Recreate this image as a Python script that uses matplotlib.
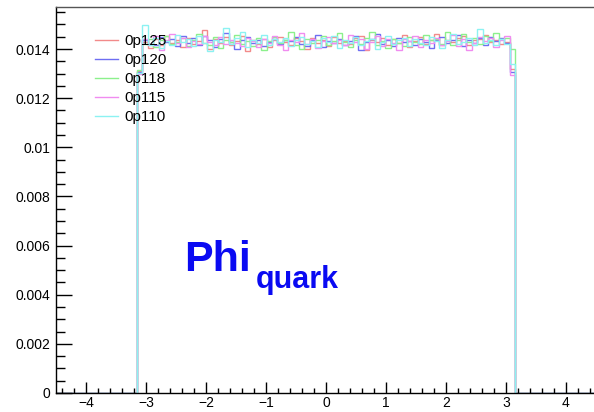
import numpy as np
import matplotlib.pyplot as plt
from matplotlib.ticker import MultipleLocator, FuncFormatter

plt.rcParams['font.family'] = ['Liberation Sans', 'DejaVu Sans']

# 100 bins over [-4.5, 4.5]; only the 70 bins covering [-pi, pi] are filled
edges = np.linspace(-4.5, 4.5, 101)
first_bin = 15

labels = ["0p125", "0p120", "0p118", "0p115", "0p110"]
colors = ["#f28a8a", "#6e6ef2", "#8cf08c", "#f08cf0", "#8cf2f2"]

phi_0p125 = [
    0.01312, 0.01428, 0.01405, 0.01440, 0.01418, 0.01452, 0.01425, 0.01436, 0.01410, 0.01445,
    0.01421, 0.01433, 0.01478, 0.01402, 0.01439, 0.01426, 0.01447, 0.01415, 0.01431, 0.01455,
    0.01392, 0.01438, 0.01422, 0.01441, 0.01409, 0.01436, 0.01450, 0.01428, 0.01417, 0.01443,
    0.01431, 0.01402, 0.01446, 0.01424, 0.01437, 0.01411, 0.01449, 0.01426, 0.01433, 0.01419,
    0.01444, 0.01452, 0.01398, 0.01435, 0.01428, 0.01446, 0.01415, 0.01440, 0.01423, 0.01457,
    0.01409, 0.01432, 0.01448, 0.01420, 0.01437, 0.01461, 0.01416, 0.01438, 0.01427, 0.01443,
    0.01452, 0.01418, 0.01435, 0.01440, 0.01459, 0.01429, 0.01437, 0.01422, 0.01428, 0.01318,
]
phi_0p120 = [
    0.01308, 0.01436, 0.01420, 0.01415, 0.01447, 0.01428, 0.01439, 0.01411, 0.01452, 0.01426,
    0.01443, 0.01418, 0.01452, 0.01437, 0.01409, 0.01441, 0.01465, 0.01430, 0.01402, 0.01438,
    0.01447, 0.01424, 0.01435, 0.01413, 0.01428, 0.01440, 0.01419, 0.01436, 0.01431, 0.01448,
    0.01420, 0.01411, 0.01437, 0.01459, 0.01407, 0.01432, 0.01425, 0.01441, 0.01416, 0.01434,
    0.01451, 0.01395, 0.01428, 0.01439, 0.01463, 0.01421, 0.01436, 0.01412, 0.01445, 0.01427,
    0.01433, 0.01417, 0.01442, 0.01429, 0.01404, 0.01438, 0.01447, 0.01423, 0.01435, 0.01456,
    0.01414, 0.01437, 0.01426, 0.01444, 0.01418, 0.01450, 0.01432, 0.01446, 0.01424, 0.01307,
]
phi_0p118 = [
    0.01316, 0.01422, 0.01441, 0.01408, 0.01437, 0.01452, 0.01419, 0.01430, 0.01446, 0.01413,
    0.01437, 0.01462, 0.01425, 0.01418, 0.01449, 0.01405, 0.01436, 0.01427, 0.01458, 0.01420,
    0.01434, 0.01412, 0.01444, 0.01396, 0.01431, 0.01449, 0.01426, 0.01438, 0.01470, 0.01415,
    0.01402, 0.01440, 0.01423, 0.01437, 0.01451, 0.01418, 0.01432, 0.01467, 0.01428, 0.01410,
    0.01436, 0.01421, 0.01445, 0.01470, 0.01416, 0.01433, 0.01404, 0.01439, 0.01426, 0.01412,
    0.01448, 0.01430, 0.01419, 0.01458, 0.01436, 0.01441, 0.01422, 0.01468, 0.01415, 0.01437,
    0.01461, 0.01429, 0.01443, 0.01420, 0.01455, 0.01433, 0.01466, 0.01441, 0.01446, 0.01401,
]
phi_0p115 = [
    0.01298, 0.01441, 0.01417, 0.01452, 0.01396, 0.01438, 0.01461, 0.01425, 0.01443, 0.01408,
    0.01432, 0.01419, 0.01455, 0.01430, 0.01415, 0.01448, 0.01421, 0.01437, 0.01426, 0.01412,
    0.01444, 0.01433, 0.01407, 0.01439, 0.01424, 0.01451, 0.01418, 0.01395, 0.01436, 0.01428,
    0.01465, 0.01419, 0.01441, 0.01406, 0.01434, 0.01447, 0.01423, 0.01438, 0.01416, 0.01459,
    0.01430, 0.01442, 0.01400, 0.01427, 0.01453, 0.01414, 0.01439, 0.01425, 0.01398, 0.01441,
    0.01433, 0.01451, 0.01409, 0.01437, 0.01426, 0.01445, 0.01418, 0.01432, 0.01457, 0.01413,
    0.01440, 0.01396, 0.01426, 0.01449, 0.01431, 0.01443, 0.01410, 0.01438, 0.01452, 0.01295,
]
phi_0p110 = [
    0.01302, 0.01496, 0.01418, 0.01445, 0.01403, 0.01434, 0.01416, 0.01458, 0.01427, 0.01440,
    0.01412, 0.01451, 0.01425, 0.01392, 0.01438, 0.01430, 0.01485, 0.01419, 0.01443, 0.01468,
    0.01407, 0.01436, 0.01424, 0.01458, 0.01415, 0.01440, 0.01428, 0.01446, 0.01412, 0.01435,
    0.01449, 0.01421, 0.01433, 0.01410, 0.01445, 0.01427, 0.01454, 0.01403, 0.01438, 0.01426,
    0.01447, 0.01416, 0.01432, 0.01440, 0.01400, 0.01428, 0.01451, 0.01419, 0.01436, 0.01445,
    0.01411, 0.01439, 0.01424, 0.01416, 0.01448, 0.01432, 0.01405, 0.01437, 0.01463, 0.01420,
    0.01429, 0.01444, 0.01418, 0.01480, 0.01426, 0.01438, 0.01415, 0.01441, 0.01422, 0.01338,
]
series = [phi_0p125, phi_0p120, phi_0p118, phi_0p115, phi_0p110]


def padded(vals):
    out = np.zeros(len(edges) - 1)
    out[first_bin:first_bin + len(vals)] = vals
    return out


W, H = 594, 412
fig = plt.figure(figsize=(W / 100, H / 100), dpi=100)
ax = fig.add_axes([56 / W, 1 - 393 / H, 540 / W, 386 / H])

for name, vals, col in zip(labels, series, colors):
    ax.stairs(padded(vals), edges, color=col, lw=1.0, label=name)

ax.set_xlim(-4.5, 4.5)
ax.set_ylim(0, 0.01571)

ax.xaxis.set_major_locator(MultipleLocator(1))
ax.xaxis.set_minor_locator(MultipleLocator(0.2))
ax.yaxis.set_major_locator(MultipleLocator(0.002))
ax.yaxis.set_minor_locator(MultipleLocator(0.0005))
ax.yaxis.set_major_formatter(FuncFormatter(lambda v, p: f"{v:g}"))

ax.tick_params(axis='x', which='major', direction='in', length=8, width=1, pad=2, labelsize=10)
ax.tick_params(axis='x', which='minor', direction='in', length=3.8, width=1)
ax.tick_params(axis='y', which='major', direction='in', length=11.5, width=1, pad=4, labelsize=10)
ax.tick_params(axis='y', which='minor', direction='in', length=6.5, width=1)
for s in ax.spines.values():
    s.set_linewidth(1.0)
ax.spines['top'].set_color('#555555')

ax.legend(loc='upper left', bbox_to_anchor=(95 / W, 1 - 34 / H), bbox_transform=fig.transFigure,
          frameon=False, fontsize=11, handlelength=1.5, handletextpad=0.4,
          labelspacing=0.33, borderpad=0, borderaxespad=0)

fig.text(184 / W, 1 - 271 / H, "Phi", color="#0a0af2", fontsize=31, fontweight='bold',
         ha='left', va='baseline')
fig.text(256 / W, 1 - 288 / H, "quark", color="#0a0af2", fontsize=22, fontweight='bold',
         ha='left', va='baseline')

fig.savefig("out.png", dpi=100)
